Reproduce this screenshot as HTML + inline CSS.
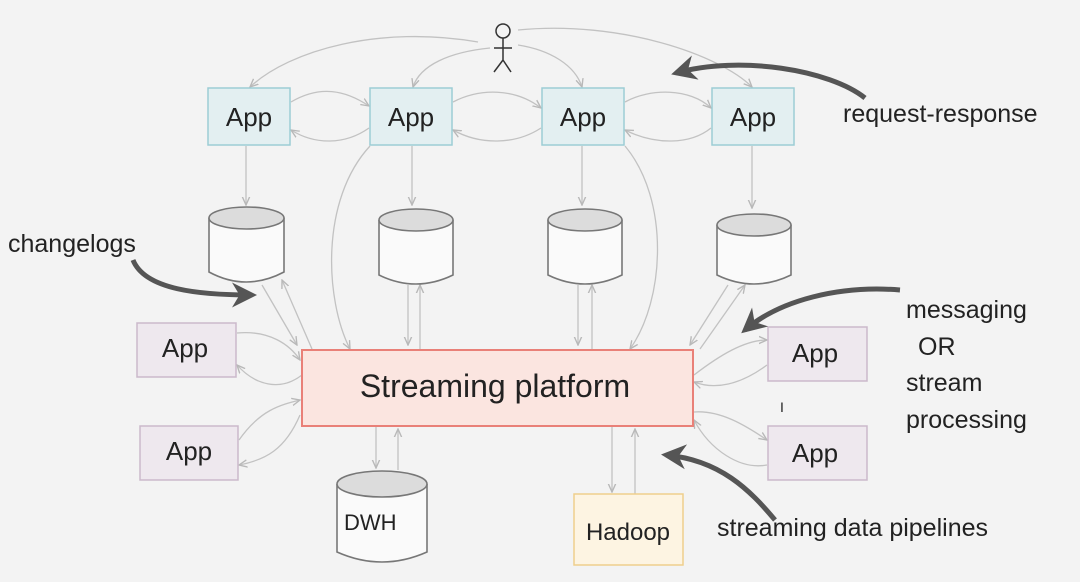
<!DOCTYPE html>
<html><head><meta charset="utf-8"><style>
html,body{margin:0;padding:0;background:#f3f3f3;}
svg{display:block;}
text{font-family:"Liberation Sans",sans-serif;fill:#222;}
</style></head><body>
<svg width="1080" height="582" viewBox="0 0 1080 582" xmlns="http://www.w3.org/2000/svg">
<defs>
<marker id="a" viewBox="0 0 10 10" refX="9" refY="5" markerWidth="7" markerHeight="7" orient="auto"><path d="M0,1 L9,5 L0,9" fill="none" stroke="#b8b8b8" stroke-width="1.5"/></marker>
<marker id="b" viewBox="0 0 10 10" refX="8" refY="5" markerWidth="5" markerHeight="5" orient="auto"><path d="M0,0 L10,5 L0,10 L3,5z" fill="#555"/></marker>
</defs>
<rect width="1080" height="582" fill="#f3f3f3"/>
<g fill="none" stroke="#c2c2c2" stroke-width="1.3" marker-end="url(#a)">
<!-- person to apps -->
<path d="M478,42 C380,25 290,50 250,87"/>
<path d="M490,48 C450,52 420,65 413,87"/>
<path d="M518,45 C550,50 575,65 582,87"/>
<path d="M518,30 C620,20 720,55 752,87"/>
<!-- app to app -->
<path d="M291,102 C320,85 345,90 369,106"/>
<path d="M369,128 C345,145 315,145 291,130"/>
<path d="M453,102 C480,88 515,88 541,108"/>
<path d="M541,128 C515,145 480,145 453,130"/>
<path d="M625,102 C650,88 690,88 711,108"/>
<path d="M711,128 C690,145 655,145 625,130"/>
<!-- apps to dbs -->
<path d="M246,146 L246,205"/><path d="M412,146 L412,205"/><path d="M582,146 L582,205"/><path d="M752,146 L752,208"/>
<!-- curves from apps to platform -->
<path d="M370,146 C320,200 325,300 350,349"/>
<path d="M625,146 C670,200 665,300 630,349"/>
<!-- dbs to platform -->
<path d="M262,285 L297,345"/><path d="M312,349 L282,280"/>
<path d="M408,285 L408,345"/><path d="M420,349 L420,285"/>
<path d="M578,285 L578,345"/><path d="M592,349 L592,285"/>
<path d="M728,285 L690,345"/><path d="M700,349 L745,285"/>
<!-- side apps -->
<path d="M237,333 C270,330 290,345 300,360"/>
<path d="M302,375 C280,392 255,385 237,365"/>
<path d="M239,440 C260,410 280,405 300,400"/>
<path d="M300,415 C285,450 265,460 239,465"/>
<path d="M694,375 C720,355 745,340 767,340"/>
<path d="M767,365 C740,385 715,390 694,382"/>
<path d="M694,412 C720,410 745,425 767,440"/>
<path d="M767,465 C740,470 710,450 694,420"/>
<!-- bottom -->
<path d="M376,427 L376,468"/><path d="M398,470 L398,429"/>
<path d="M612,427 L612,492"/><path d="M635,494 L635,429"/>
</g>
<!-- person -->
<g stroke="#333" stroke-width="1.5" fill="none">
<circle cx="503" cy="31" r="7"/><path d="M503,38 L503,60 M494,48 L512,48 M503,60 L494,72 M503,60 L511,72"/>
</g>
<!-- top apps -->
<g fill="#e3eff1" stroke="#9ccdd5" stroke-width="1.5">
<rect x="208" y="88" width="82" height="57"/><rect x="370" y="88" width="82" height="57"/>
<rect x="542" y="88" width="82" height="57"/><rect x="712" y="88" width="82" height="57"/>
</g>
<g font-size="26" text-anchor="middle">
<text x="249" y="126">App</text><text x="411" y="126">App</text><text x="583" y="126">App</text><text x="753" y="126">App</text>
</g>
<!-- cylinders -->
<g stroke="#777" stroke-width="1.6">
<g transform="translate(209,0)"><path d="M0,218 L0,272 Q37,292 75,272 L75,218" fill="#fafafa"/><ellipse cx="37.5" cy="218" rx="37.5" ry="11" fill="#dcdcdc"/></g>
<g transform="translate(379,0)"><path d="M0,220 L0,275 Q37,293 74,275 L74,220" fill="#fafafa"/><ellipse cx="37" cy="220" rx="37" ry="11" fill="#dcdcdc"/></g>
<g transform="translate(548,0)"><path d="M0,220 L0,275 Q37,293 74,275 L74,220" fill="#fafafa"/><ellipse cx="37" cy="220" rx="37" ry="11" fill="#dcdcdc"/></g>
<g transform="translate(717,0)"><path d="M0,225 L0,275 Q37,293 74,275 L74,225" fill="#fafafa"/><ellipse cx="37" cy="225" rx="37" ry="11" fill="#dcdcdc"/></g>
<g transform="translate(337,0)"><path d="M0,484 L0,552 Q45,572 90,552 L90,484" fill="#fafafa"/><ellipse cx="45" cy="484" rx="45" ry="13" fill="#dcdcdc"/></g>
</g>
<text x="344" y="530" font-size="22">DWH</text>
<!-- platform -->
<rect x="302" y="350" width="391" height="76" fill="#fbe5e0" stroke="#e98078" stroke-width="2"/>
<text x="495" y="397" font-size="32" text-anchor="middle">Streaming platform</text>
<!-- side apps -->
<g fill="#eee8ee" stroke="#cbb9cb" stroke-width="1.5">
<rect x="137" y="323" width="99" height="54"/><rect x="140" y="426" width="98" height="54"/>
<rect x="768" y="327" width="99" height="54"/><rect x="768" y="426" width="99" height="54"/>
</g>
<g font-size="26" text-anchor="middle">
<text x="185" y="357">App</text><text x="189" y="460">App</text><text x="815" y="362">App</text><text x="815" y="462">App</text>
</g>
<rect x="574" y="494" width="109" height="71" fill="#fdf4e2" stroke="#efcf8c" stroke-width="1.5"/>
<text x="628" y="540" font-size="24" text-anchor="middle">Hadoop</text>
<!-- dark arrows -->
<g fill="none" stroke="#555" stroke-width="5" marker-end="url(#b)">
<path d="M865,98 C830,70 740,55 676,73"/>
<path d="M133,260 C145,290 200,295 252,295"/>
<path d="M900,290 C840,285 780,300 745,330"/>
<path d="M775,520 C750,490 720,460 666,455"/>
</g>
<!-- labels -->
<g font-size="25">
<text x="843" y="122">request-response</text>
<text x="8" y="252">changelogs</text>
<text x="906" y="318">messaging</text>
<text x="918" y="355">OR</text>
<text x="906" y="391">stream</text>
<text x="906" y="428">processing</text>
<text x="717" y="536">streaming data pipelines</text>
</g>
<text x="780" y="412" font-size="14" fill="#555">I</text>
</svg>
</body></html>
